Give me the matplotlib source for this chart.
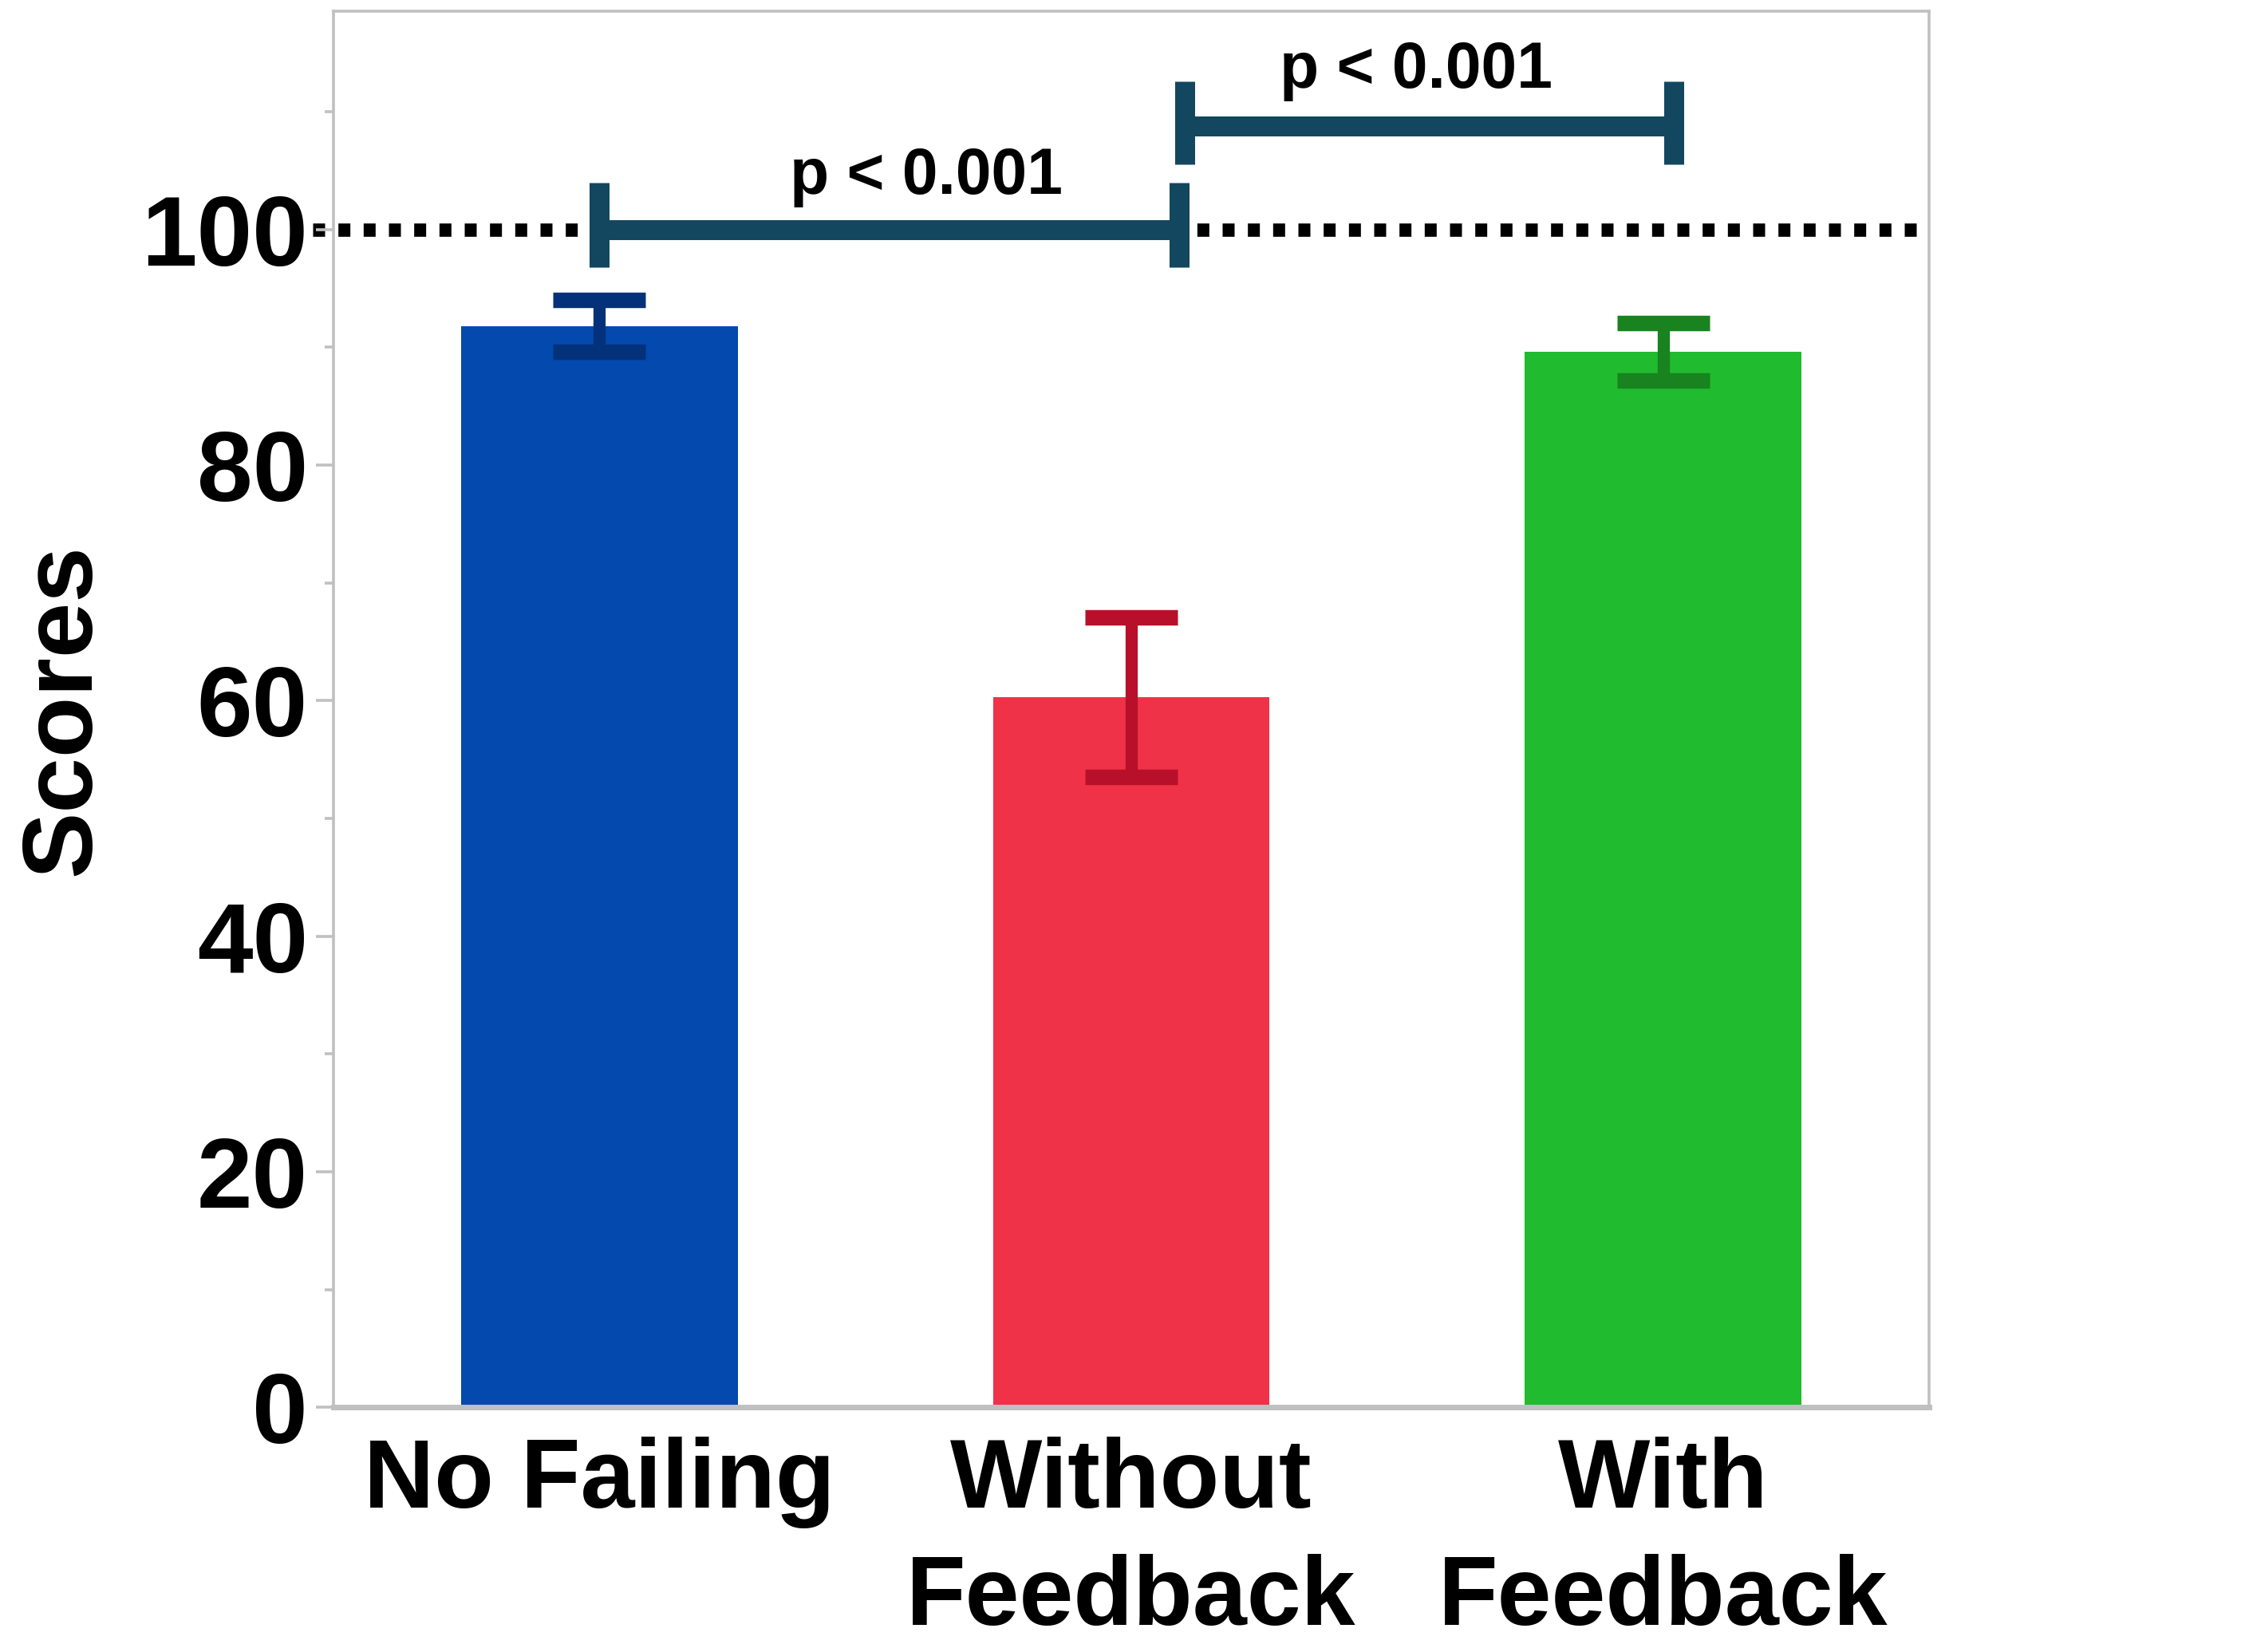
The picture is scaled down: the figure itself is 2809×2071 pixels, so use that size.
import numpy as np
import matplotlib
matplotlib.use('Agg')
import matplotlib.pyplot as plt
import matplotlib.transforms as mtransforms

plt.rcParams['font.family'] = ['Liberation Sans', 'DejaVu Sans']
plt.rcParams['font.weight'] = 'bold'

categories = ['No Failing', 'Without\nFeedback', 'With\nFeedback']
scores = [91.8, 60.3, 89.6]
errors = [2.2, 6.8, 2.45]
bar_colors = ['#0349AE', '#EF3247', '#20BB2E']
err_colors = ['#03327A', '#B8102A', '#18831F']

# significance brackets: (x start, x end, height, cap bottom, cap top)
brackets = [(0.0, 1.09, 100.0, 96.8, 104.0),
            (1.1, 2.02, 108.8, 105.5, 112.6)]
# p-value labels: (x, baseline y, text)
p_labels = [(0.614, 103.0, 'p < 0.001'),
            (1.535, 112.0, 'p < 0.001')]
bracket_color = '#12475F'
reference_line = 100

fig = plt.figure(figsize=(14.045, 10.355), dpi=200)
ax = fig.add_axes([0.1487, 0.148, 0.7122, 0.845])

x = np.arange(len(categories))
ax.bar(x, scores, width=0.52, color=bar_colors, zorder=2)
for xi, s, e, c in zip(x, scores, errors, err_colors):
    ax.errorbar(xi, s, yerr=e, fmt='none', ecolor=c, elinewidth=5.5,
                capsize=21, capthick=7, zorder=3)

# dotted reference line at 100
trans = mtransforms.blended_transform_factory(ax.transAxes, ax.transData)
ax.plot([-0.0126, 0.993], [reference_line, reference_line], transform=trans,
        color='black', lw=6, linestyle=(0, (0.9, 1.0)), clip_on=False, zorder=1)

for x0, x1, h, lo, hi in brackets:
    ax.plot([x0, x1], [h, h], color=bracket_color, lw=9, solid_capstyle='butt', zorder=4)
    ax.plot([x0, x0], [lo, hi], color=bracket_color, lw=9, solid_capstyle='butt', zorder=4)
    ax.plot([x1, x1], [lo, hi], color=bracket_color, lw=9, solid_capstyle='butt', zorder=4)
for px, py, label in p_labels:
    ax.text(px, py, label, ha='center', va='baseline',
            fontsize=29, fontweight='bold', color='black', zorder=5)

ax.set_xlim(-0.5, 2.5)
ax.set_ylim(0, 118.5)
ax.set_xticks(x)
ax.set_xticklabels(categories, fontsize=44, fontweight='bold', linespacing=1.38)
ax.set_yticks(np.arange(0, 101, 20))
ax.set_yticks(np.arange(10, 111, 20), minor=True)
ax.tick_params(axis='y', which='major', labelsize=45, length=8, width=1.3,
               color='#c0c0c0', pad=3.5)
ax.tick_params(axis='y', which='minor', length=4, width=1.3, color='#c0c0c0')
ax.tick_params(axis='x', length=0, pad=13)
for lbl in ax.get_yticklabels():
    lbl.set_fontweight('bold')
ax.set_ylabel('Scores', fontsize=45, fontweight='bold', labelpad=14)

for sp in ax.spines.values():
    sp.set_color('#c0c0c0')
    sp.set_linewidth(1.3)
ax.spines['bottom'].set_linewidth(2.5)

fig.savefig('out.png', dpi=200)
